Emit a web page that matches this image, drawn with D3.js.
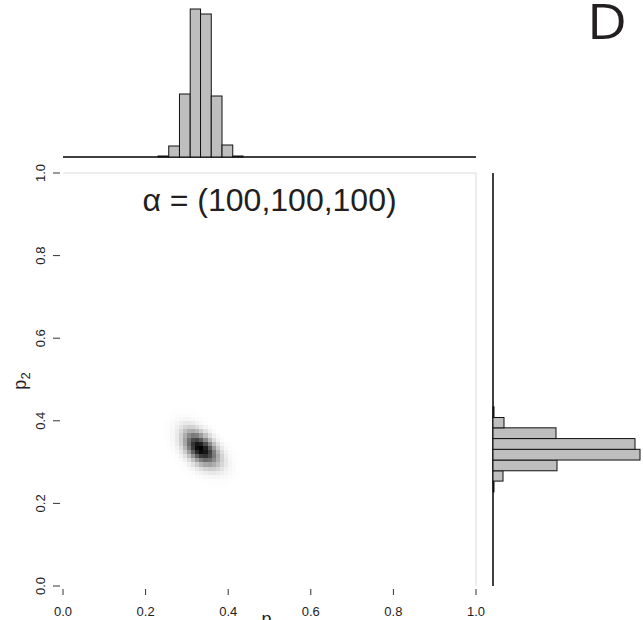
<!DOCTYPE html>
<html>
<head>
<meta charset="utf-8">
<script src="https://cdn.jsdelivr.net/npm/d3@7"></script>
<style>
 body { margin: 0; background: #fff; }
 svg { display: block; }
 .tick-label { font-family: "Liberation Sans", Arial, sans-serif; font-size: 13px; fill: #222; }
 .bar { fill: #bebebe; stroke: #111; stroke-width: 1; }
</style>
</head>
<body>
<svg width="643" height="620"></svg>
<script>
// Dirichlet parameters shown in the title
const alpha = [100, 100, 100];

// marginal histogram of p1 (top panel): bin edges and bar heights
const topEdges = [0.23, 0.256, 0.282, 0.308, 0.333, 0.359, 0.385, 0.411, 0.436];
const topCounts = [1, 11, 63, 148, 143, 61, 12, 1];

// marginal histogram of p2 (right panel), bins from low to high
const rightEdges = [0.228, 0.254, 0.279, 0.305, 0.331, 0.357, 0.383, 0.408, 0.434];
const rightCounts = [1, 10, 64, 147, 142, 63, 11, 1];

const ticks = [0, 0.2, 0.4, 0.6, 0.8, 1.0];

const gridN = 100;

const svg = d3.select("svg");

const x = d3.scaleLinear().domain([0, 1]).range([63, 476]);
const y = d3.scaleLinear().domain([0, 1]).range([586, 173]);

// density image
const logDens = (p1, p2) => {
 const p3 = 1 - p1 - p2;
 if (p3 <= 0) return -Infinity;
 return (alpha[0] - 1) * Math.log(p1) + (alpha[1] - 1) * Math.log(p2) + (alpha[2] - 1) * Math.log(p3);
};

const cells = [];
for (let i = 0; i < gridN; i++) {
 for (let j = 0; j < gridN; j++) {
  cells.push({ i: i, j: j, ld: logDens((i + 0.5) / gridN, (j + 0.5) / gridN) });
 }
}
const maxLd = d3.max(cells, c => c.ld);
cells.forEach(c => (c.v = Math.exp(c.ld - maxLd)));

const gray = d3.scaleLinear().domain([0, 1]).range(["#ffffff", "#000000"]);

svg
 .append("g")
 .attr("shape-rendering", "crispEdges")
 .selectAll("rect")
 .data(cells.filter(c => c.v > 0.002))
 .enter()
 .append("rect")
 .attr("x", c => x(c.i / gridN))
 .attr("y", c => y((c.j + 1) / gridN))
 .attr("width", x(1 / gridN) - x(0) + 0.3)
 .attr("height", y(0) - y(1 / gridN) + 0.3)
 .attr("fill", c => gray(c.v));

// light frame on top and right of the image
svg
 .append("path")
 .attr("d", `M${x(0)},${y(1)}H${x(1)}V${y(0)}`)
 .attr("fill", "none")
 .attr("stroke", "#dcdcdc")
 .attr("stroke-width", 1);

// x ticks
const xAxis = svg.append("g");
xAxis
 .selectAll("line")
 .data(ticks)
 .enter()
 .append("line")
 .attr("x1", d => x(d))
 .attr("x2", d => x(d))
 .attr("y1", 589)
 .attr("y2", 595)
 .attr("stroke", "#333");
xAxis
 .selectAll("text")
 .data(ticks)
 .enter()
 .append("text")
 .attr("class", "tick-label")
 .attr("x", d => x(d))
 .attr("y", 616)
 .attr("text-anchor", "middle")
 .text(d => d.toFixed(1));

// y ticks
const yAxis = svg.append("g");
yAxis
 .selectAll("line")
 .data(ticks)
 .enter()
 .append("line")
 .attr("x1", 53)
 .attr("x2", 60)
 .attr("y1", d => y(d))
 .attr("y2", d => y(d))
 .attr("stroke", "#333");
yAxis
 .selectAll("text")
 .data(ticks)
 .enter()
 .append("text")
 .attr("class", "tick-label")
 .attr("transform", d => `translate(45,${y(d)}) rotate(-90)`)
 .attr("text-anchor", "middle")
 .text(d => d.toFixed(1));

// axis titles
const pLabel = (g, sub) => {
 const t = g
  .append("text")
  .attr("font-family", "Liberation Sans, Arial, sans-serif")
  .attr("font-size", 18)
  .attr("fill", "#222")
  .attr("text-anchor", "middle");
 t.append("tspan").text("p");
 t.append("tspan").attr("font-size", 13).attr("dy", 4).text(sub);
 return t;
};
pLabel(svg.append("g").attr("transform", "translate(270,625)"), "1");
pLabel(svg.append("g").attr("transform", "translate(26,381) rotate(-90)"), "2");

// title
svg
 .append("text")
 .attr("x", (x(0) + x(1)) / 2)
 .attr("y", 211)
 .attr("text-anchor", "middle")
 .attr("font-family", "Liberation Sans, Arial, sans-serif")
 .attr("font-size", 32)
 .attr("fill", "#231f20")
 .text(`α = (${alpha.join(",")})`);

// top marginal histogram
const hTop = d3.scaleLinear().domain([0, 148]).range([157, 9]);
svg
 .append("line")
 .attr("x1", x(0))
 .attr("x2", x(1))
 .attr("y1", hTop(0))
 .attr("y2", hTop(0))
 .attr("stroke", "#000")
 .attr("stroke-width", 1.5);
svg
 .append("g")
 .selectAll("rect")
 .data(topCounts)
 .enter()
 .append("rect")
 .attr("class", "bar")
 .attr("x", (d, i) => x(topEdges[i]))
 .attr("width", (d, i) => x(topEdges[i + 1]) - x(topEdges[i]))
 .attr("y", d => hTop(d))
 .attr("height", d => hTop(0) - hTop(d));

// right marginal histogram
const wRight = d3.scaleLinear().domain([0, 148]).range([493, 641]);
svg
 .append("line")
 .attr("x1", wRight(0))
 .attr("x2", wRight(0))
 .attr("y1", y(1))
 .attr("y2", y(0))
 .attr("stroke", "#000")
 .attr("stroke-width", 1.5);
svg
 .append("g")
 .selectAll("rect")
 .data(rightCounts)
 .enter()
 .append("rect")
 .attr("class", "bar")
 .attr("x", wRight(0))
 .attr("width", d => wRight(d) - wRight(0))
 .attr("y", (d, i) => y(rightEdges[i + 1]))
 .attr("height", (d, i) => y(rightEdges[i]) - y(rightEdges[i + 1]));

// panel letter
svg
 .append("text")
 .attr("x", 587)
 .attr("y", 39)
 .attr("font-family", "Open Sans, sans-serif")
 .attr("font-size", 50)
 .attr("textLength", 40)
 .attr("lengthAdjust", "spacingAndGlyphs")
 .attr("fill", "#231f20")
 .text("D");
</script>
</body>
</html>
